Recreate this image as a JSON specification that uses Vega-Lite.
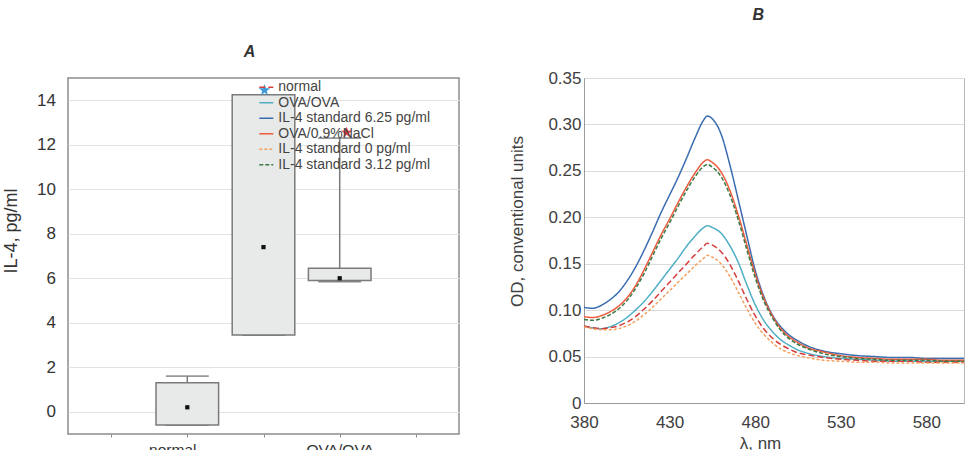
{
  "$schema": "https://vega.github.io/schema/vega-lite/v6.json",
  "padding": {"left": 1, "top": 6, "right": 8, "bottom": 0},
  "spacing": 47,
  "config": {
    "font": "Liberation Sans",
    "axis": {"labelColor": "#333333", "titleColor": "#333333", "titleFontWeight": "normal", "gridColor": "#e3e3e3", "domainColor": "#9a9a9a", "tickColor": "#8a8a8a"},
    "title": {"fontSize": 16, "fontWeight": "bold", "fontStyle": "italic", "color": "#333333", "baseline": "alphabetic", "frame": "group"}
  },
  "datasets": {
    "box": [
      {"group": "normal", "pos": 2, "min": -0.6, "q1": -0.6, "median": 0.2, "q3": 1.3, "max": 1.6},
      {"group": "OVA/0.9%NaCl", "pos": 3, "min": 3.45, "q1": 3.45, "median": 7.4, "q3": 14.25, "max": 14.25},
      {"group": "OVA/OVA", "pos": 4, "min": 5.85, "q1": 5.9, "median": 6.0, "q3": 6.45, "max": 12.3}
    ],
    "stars": [
      {"group": "OVA/0.9%NaCl", "pos": 3, "value": 14.45, "vs": "normal"},
      {"group": "OVA/OVA", "pos": 4, "value": 12.55, "vs": "OVA/0.9%NaCl"}
    ],
    "spectra": [
      {"series": "OVA/OVA", "nm": 380, "od": 0.083}, {"series": "OVA/OVA", "nm": 385, "od": 0.081}, {"series": "OVA/OVA", "nm": 390, "od": 0.080}, {"series": "OVA/OVA", "nm": 395, "od": 0.082}, {"series": "OVA/OVA", "nm": 400, "od": 0.086}, {"series": "OVA/OVA", "nm": 405, "od": 0.092}, {"series": "OVA/OVA", "nm": 410, "od": 0.100}, {"series": "OVA/OVA", "nm": 415, "od": 0.109}, {"series": "OVA/OVA", "nm": 420, "od": 0.120}, {"series": "OVA/OVA", "nm": 425, "od": 0.132}, {"series": "OVA/OVA", "nm": 430, "od": 0.144}, {"series": "OVA/OVA", "nm": 435, "od": 0.156}, {"series": "OVA/OVA", "nm": 440, "od": 0.169}, {"series": "OVA/OVA", "nm": 445, "od": 0.180}, {"series": "OVA/OVA", "nm": 450, "od": 0.189}, {"series": "OVA/OVA", "nm": 452, "od": 0.191}, {"series": "OVA/OVA", "nm": 455, "od": 0.189}, {"series": "OVA/OVA", "nm": 460, "od": 0.183}, {"series": "OVA/OVA", "nm": 465, "od": 0.170}, {"series": "OVA/OVA", "nm": 470, "od": 0.152}, {"series": "OVA/OVA", "nm": 475, "od": 0.128}, {"series": "OVA/OVA", "nm": 480, "od": 0.106}, {"series": "OVA/OVA", "nm": 485, "od": 0.089}, {"series": "OVA/OVA", "nm": 490, "od": 0.077}, {"series": "OVA/OVA", "nm": 495, "od": 0.068}, {"series": "OVA/OVA", "nm": 500, "od": 0.062}, {"series": "OVA/OVA", "nm": 505, "od": 0.057}, {"series": "OVA/OVA", "nm": 510, "od": 0.054}, {"series": "OVA/OVA", "nm": 520, "od": 0.050}, {"series": "OVA/OVA", "nm": 530, "od": 0.048}, {"series": "OVA/OVA", "nm": 540, "od": 0.047}, {"series": "OVA/OVA", "nm": 550, "od": 0.046}, {"series": "OVA/OVA", "nm": 560, "od": 0.045}, {"series": "OVA/OVA", "nm": 570, "od": 0.045}, {"series": "OVA/OVA", "nm": 580, "od": 0.045}, {"series": "OVA/OVA", "nm": 590, "od": 0.045}, {"series": "OVA/OVA", "nm": 602, "od": 0.045},
      {"series": "normal", "nm": 380, "od": 0.083}, {"series": "normal", "nm": 385, "od": 0.081}, {"series": "normal", "nm": 390, "od": 0.080}, {"series": "normal", "nm": 395, "od": 0.081}, {"series": "normal", "nm": 400, "od": 0.083}, {"series": "normal", "nm": 405, "od": 0.087}, {"series": "normal", "nm": 410, "od": 0.093}, {"series": "normal", "nm": 415, "od": 0.101}, {"series": "normal", "nm": 420, "od": 0.110}, {"series": "normal", "nm": 425, "od": 0.120}, {"series": "normal", "nm": 430, "od": 0.130}, {"series": "normal", "nm": 435, "od": 0.140}, {"series": "normal", "nm": 440, "od": 0.150}, {"series": "normal", "nm": 445, "od": 0.160}, {"series": "normal", "nm": 450, "od": 0.169}, {"series": "normal", "nm": 452, "od": 0.172}, {"series": "normal", "nm": 455, "od": 0.170}, {"series": "normal", "nm": 460, "od": 0.163}, {"series": "normal", "nm": 465, "od": 0.150}, {"series": "normal", "nm": 470, "od": 0.132}, {"series": "normal", "nm": 475, "od": 0.112}, {"series": "normal", "nm": 480, "od": 0.094}, {"series": "normal", "nm": 485, "od": 0.080}, {"series": "normal", "nm": 490, "od": 0.070}, {"series": "normal", "nm": 495, "od": 0.063}, {"series": "normal", "nm": 500, "od": 0.058}, {"series": "normal", "nm": 505, "od": 0.054}, {"series": "normal", "nm": 510, "od": 0.052}, {"series": "normal", "nm": 520, "od": 0.049}, {"series": "normal", "nm": 530, "od": 0.047}, {"series": "normal", "nm": 540, "od": 0.046}, {"series": "normal", "nm": 550, "od": 0.045}, {"series": "normal", "nm": 560, "od": 0.045}, {"series": "normal", "nm": 570, "od": 0.045}, {"series": "normal", "nm": 580, "od": 0.044}, {"series": "normal", "nm": 590, "od": 0.044}, {"series": "normal", "nm": 602, "od": 0.044},
      {"series": "IL-4 standard 0 pg/ml", "nm": 380, "od": 0.082}, {"series": "IL-4 standard 0 pg/ml", "nm": 385, "od": 0.080}, {"series": "IL-4 standard 0 pg/ml", "nm": 390, "od": 0.079}, {"series": "IL-4 standard 0 pg/ml", "nm": 395, "od": 0.079}, {"series": "IL-4 standard 0 pg/ml", "nm": 400, "od": 0.080}, {"series": "IL-4 standard 0 pg/ml", "nm": 405, "od": 0.083}, {"series": "IL-4 standard 0 pg/ml", "nm": 410, "od": 0.088}, {"series": "IL-4 standard 0 pg/ml", "nm": 415, "od": 0.095}, {"series": "IL-4 standard 0 pg/ml", "nm": 420, "od": 0.103}, {"series": "IL-4 standard 0 pg/ml", "nm": 425, "od": 0.112}, {"series": "IL-4 standard 0 pg/ml", "nm": 430, "od": 0.121}, {"series": "IL-4 standard 0 pg/ml", "nm": 435, "od": 0.130}, {"series": "IL-4 standard 0 pg/ml", "nm": 440, "od": 0.139}, {"series": "IL-4 standard 0 pg/ml", "nm": 445, "od": 0.148}, {"series": "IL-4 standard 0 pg/ml", "nm": 450, "od": 0.156}, {"series": "IL-4 standard 0 pg/ml", "nm": 452, "od": 0.159}, {"series": "IL-4 standard 0 pg/ml", "nm": 455, "od": 0.157}, {"series": "IL-4 standard 0 pg/ml", "nm": 460, "od": 0.150}, {"series": "IL-4 standard 0 pg/ml", "nm": 465, "od": 0.137}, {"series": "IL-4 standard 0 pg/ml", "nm": 470, "od": 0.120}, {"series": "IL-4 standard 0 pg/ml", "nm": 475, "od": 0.102}, {"series": "IL-4 standard 0 pg/ml", "nm": 480, "od": 0.086}, {"series": "IL-4 standard 0 pg/ml", "nm": 485, "od": 0.074}, {"series": "IL-4 standard 0 pg/ml", "nm": 490, "od": 0.065}, {"series": "IL-4 standard 0 pg/ml", "nm": 495, "od": 0.058}, {"series": "IL-4 standard 0 pg/ml", "nm": 500, "od": 0.054}, {"series": "IL-4 standard 0 pg/ml", "nm": 505, "od": 0.051}, {"series": "IL-4 standard 0 pg/ml", "nm": 510, "od": 0.049}, {"series": "IL-4 standard 0 pg/ml", "nm": 520, "od": 0.046}, {"series": "IL-4 standard 0 pg/ml", "nm": 530, "od": 0.045}, {"series": "IL-4 standard 0 pg/ml", "nm": 540, "od": 0.044}, {"series": "IL-4 standard 0 pg/ml", "nm": 550, "od": 0.044}, {"series": "IL-4 standard 0 pg/ml", "nm": 560, "od": 0.043}, {"series": "IL-4 standard 0 pg/ml", "nm": 570, "od": 0.043}, {"series": "IL-4 standard 0 pg/ml", "nm": 580, "od": 0.043}, {"series": "IL-4 standard 0 pg/ml", "nm": 590, "od": 0.043}, {"series": "IL-4 standard 0 pg/ml", "nm": 602, "od": 0.043},
      {"series": "IL-4 standard 6.25 pg/ml", "nm": 380, "od": 0.103}, {"series": "IL-4 standard 6.25 pg/ml", "nm": 385, "od": 0.102}, {"series": "IL-4 standard 6.25 pg/ml", "nm": 390, "od": 0.105}, {"series": "IL-4 standard 6.25 pg/ml", "nm": 395, "od": 0.111}, {"series": "IL-4 standard 6.25 pg/ml", "nm": 400, "od": 0.119}, {"series": "IL-4 standard 6.25 pg/ml", "nm": 405, "od": 0.131}, {"series": "IL-4 standard 6.25 pg/ml", "nm": 410, "od": 0.146}, {"series": "IL-4 standard 6.25 pg/ml", "nm": 415, "od": 0.164}, {"series": "IL-4 standard 6.25 pg/ml", "nm": 420, "od": 0.184}, {"series": "IL-4 standard 6.25 pg/ml", "nm": 425, "od": 0.205}, {"series": "IL-4 standard 6.25 pg/ml", "nm": 430, "od": 0.224}, {"series": "IL-4 standard 6.25 pg/ml", "nm": 435, "od": 0.243}, {"series": "IL-4 standard 6.25 pg/ml", "nm": 440, "od": 0.264}, {"series": "IL-4 standard 6.25 pg/ml", "nm": 445, "od": 0.286}, {"series": "IL-4 standard 6.25 pg/ml", "nm": 450, "od": 0.305}, {"series": "IL-4 standard 6.25 pg/ml", "nm": 452, "od": 0.309}, {"series": "IL-4 standard 6.25 pg/ml", "nm": 455, "od": 0.306}, {"series": "IL-4 standard 6.25 pg/ml", "nm": 460, "od": 0.290}, {"series": "IL-4 standard 6.25 pg/ml", "nm": 465, "od": 0.258}, {"series": "IL-4 standard 6.25 pg/ml", "nm": 470, "od": 0.220}, {"series": "IL-4 standard 6.25 pg/ml", "nm": 475, "od": 0.181}, {"series": "IL-4 standard 6.25 pg/ml", "nm": 480, "od": 0.143}, {"series": "IL-4 standard 6.25 pg/ml", "nm": 485, "od": 0.115}, {"series": "IL-4 standard 6.25 pg/ml", "nm": 490, "od": 0.095}, {"series": "IL-4 standard 6.25 pg/ml", "nm": 495, "od": 0.082}, {"series": "IL-4 standard 6.25 pg/ml", "nm": 500, "od": 0.073}, {"series": "IL-4 standard 6.25 pg/ml", "nm": 505, "od": 0.067}, {"series": "IL-4 standard 6.25 pg/ml", "nm": 510, "od": 0.062}, {"series": "IL-4 standard 6.25 pg/ml", "nm": 520, "od": 0.056}, {"series": "IL-4 standard 6.25 pg/ml", "nm": 530, "od": 0.053}, {"series": "IL-4 standard 6.25 pg/ml", "nm": 540, "od": 0.051}, {"series": "IL-4 standard 6.25 pg/ml", "nm": 550, "od": 0.050}, {"series": "IL-4 standard 6.25 pg/ml", "nm": 560, "od": 0.049}, {"series": "IL-4 standard 6.25 pg/ml", "nm": 570, "od": 0.049}, {"series": "IL-4 standard 6.25 pg/ml", "nm": 580, "od": 0.048}, {"series": "IL-4 standard 6.25 pg/ml", "nm": 590, "od": 0.048}, {"series": "IL-4 standard 6.25 pg/ml", "nm": 602, "od": 0.048},
      {"series": "OVA/0.9%NaCl", "nm": 380, "od": 0.093}, {"series": "OVA/0.9%NaCl", "nm": 385, "od": 0.092}, {"series": "OVA/0.9%NaCl", "nm": 390, "od": 0.094}, {"series": "OVA/0.9%NaCl", "nm": 395, "od": 0.098}, {"series": "OVA/0.9%NaCl", "nm": 400, "od": 0.104}, {"series": "OVA/0.9%NaCl", "nm": 405, "od": 0.113}, {"series": "OVA/0.9%NaCl", "nm": 410, "od": 0.126}, {"series": "OVA/0.9%NaCl", "nm": 415, "od": 0.143}, {"series": "OVA/0.9%NaCl", "nm": 420, "od": 0.162}, {"series": "OVA/0.9%NaCl", "nm": 425, "od": 0.181}, {"series": "OVA/0.9%NaCl", "nm": 430, "od": 0.198}, {"series": "OVA/0.9%NaCl", "nm": 435, "od": 0.216}, {"series": "OVA/0.9%NaCl", "nm": 440, "od": 0.233}, {"series": "OVA/0.9%NaCl", "nm": 445, "od": 0.248}, {"series": "OVA/0.9%NaCl", "nm": 450, "od": 0.260}, {"series": "OVA/0.9%NaCl", "nm": 452, "od": 0.262}, {"series": "OVA/0.9%NaCl", "nm": 455, "od": 0.259}, {"series": "OVA/0.9%NaCl", "nm": 460, "od": 0.249}, {"series": "OVA/0.9%NaCl", "nm": 465, "od": 0.230}, {"series": "OVA/0.9%NaCl", "nm": 470, "od": 0.203}, {"series": "OVA/0.9%NaCl", "nm": 475, "od": 0.171}, {"series": "OVA/0.9%NaCl", "nm": 480, "od": 0.139}, {"series": "OVA/0.9%NaCl", "nm": 485, "od": 0.113}, {"series": "OVA/0.9%NaCl", "nm": 490, "od": 0.094}, {"series": "OVA/0.9%NaCl", "nm": 495, "od": 0.080}, {"series": "OVA/0.9%NaCl", "nm": 500, "od": 0.071}, {"series": "OVA/0.9%NaCl", "nm": 505, "od": 0.065}, {"series": "OVA/0.9%NaCl", "nm": 510, "od": 0.060}, {"series": "OVA/0.9%NaCl", "nm": 520, "od": 0.055}, {"series": "OVA/0.9%NaCl", "nm": 530, "od": 0.051}, {"series": "OVA/0.9%NaCl", "nm": 540, "od": 0.049}, {"series": "OVA/0.9%NaCl", "nm": 550, "od": 0.048}, {"series": "OVA/0.9%NaCl", "nm": 560, "od": 0.047}, {"series": "OVA/0.9%NaCl", "nm": 570, "od": 0.047}, {"series": "OVA/0.9%NaCl", "nm": 580, "od": 0.047}, {"series": "OVA/0.9%NaCl", "nm": 590, "od": 0.046}, {"series": "OVA/0.9%NaCl", "nm": 602, "od": 0.046},
      {"series": "IL-4 standard 3.12 pg/ml", "nm": 380, "od": 0.090}, {"series": "IL-4 standard 3.12 pg/ml", "nm": 385, "od": 0.089}, {"series": "IL-4 standard 3.12 pg/ml", "nm": 390, "od": 0.091}, {"series": "IL-4 standard 3.12 pg/ml", "nm": 395, "od": 0.095}, {"series": "IL-4 standard 3.12 pg/ml", "nm": 400, "od": 0.101}, {"series": "IL-4 standard 3.12 pg/ml", "nm": 405, "od": 0.110}, {"series": "IL-4 standard 3.12 pg/ml", "nm": 410, "od": 0.123}, {"series": "IL-4 standard 3.12 pg/ml", "nm": 415, "od": 0.139}, {"series": "IL-4 standard 3.12 pg/ml", "nm": 420, "od": 0.158}, {"series": "IL-4 standard 3.12 pg/ml", "nm": 425, "od": 0.177}, {"series": "IL-4 standard 3.12 pg/ml", "nm": 430, "od": 0.194}, {"series": "IL-4 standard 3.12 pg/ml", "nm": 435, "od": 0.212}, {"series": "IL-4 standard 3.12 pg/ml", "nm": 440, "od": 0.229}, {"series": "IL-4 standard 3.12 pg/ml", "nm": 445, "od": 0.244}, {"series": "IL-4 standard 3.12 pg/ml", "nm": 450, "od": 0.255}, {"series": "IL-4 standard 3.12 pg/ml", "nm": 452, "od": 0.257}, {"series": "IL-4 standard 3.12 pg/ml", "nm": 455, "od": 0.254}, {"series": "IL-4 standard 3.12 pg/ml", "nm": 460, "od": 0.244}, {"series": "IL-4 standard 3.12 pg/ml", "nm": 465, "od": 0.225}, {"series": "IL-4 standard 3.12 pg/ml", "nm": 470, "od": 0.198}, {"series": "IL-4 standard 3.12 pg/ml", "nm": 475, "od": 0.166}, {"series": "IL-4 standard 3.12 pg/ml", "nm": 480, "od": 0.135}, {"series": "IL-4 standard 3.12 pg/ml", "nm": 485, "od": 0.110}, {"series": "IL-4 standard 3.12 pg/ml", "nm": 490, "od": 0.092}, {"series": "IL-4 standard 3.12 pg/ml", "nm": 495, "od": 0.078}, {"series": "IL-4 standard 3.12 pg/ml", "nm": 500, "od": 0.069}, {"series": "IL-4 standard 3.12 pg/ml", "nm": 505, "od": 0.063}, {"series": "IL-4 standard 3.12 pg/ml", "nm": 510, "od": 0.059}, {"series": "IL-4 standard 3.12 pg/ml", "nm": 520, "od": 0.053}, {"series": "IL-4 standard 3.12 pg/ml", "nm": 530, "od": 0.050}, {"series": "IL-4 standard 3.12 pg/ml", "nm": 540, "od": 0.048}, {"series": "IL-4 standard 3.12 pg/ml", "nm": 550, "od": 0.047}, {"series": "IL-4 standard 3.12 pg/ml", "nm": 560, "od": 0.046}, {"series": "IL-4 standard 3.12 pg/ml", "nm": 570, "od": 0.046}, {"series": "IL-4 standard 3.12 pg/ml", "nm": 580, "od": 0.046}, {"series": "IL-4 standard 3.12 pg/ml", "nm": 590, "od": 0.045}, {"series": "IL-4 standard 3.12 pg/ml", "nm": 602, "od": 0.045}
    ]
  },
  "hconcat": [
    {
      "width": 391,
      "height": 356,
      "view": {"stroke": "#8c8c8c", "strokeWidth": 1.5},
      "title": {"text": "A", "offset": 18, "dx": -14},
      "data": {"name": "box"},
      "encoding": {
        "x": {
          "field": "pos",
          "type": "quantitative",
          "scale": {"domain": [0.5, 5.5], "nice": false, "zero": false},
          "axis": {
            "title": null,
            "values": [1, 2, 3, 4, 5],
            "labelExpr": "datum.value === 2 ? 'normal' : datum.value === 3 ? 'OVA/0.9%NaCl' : datum.value === 4 ? 'OVA/OVA' : ''",
            "grid": false,
            "domain": false,
            "ticks": true,
            "tickSize": 3,
            "labelOverlap": false,
            "labelFlush": false,
            "labelFontSize": 15.5,
            "labelColor": "#333333",
            "labelOffset": {"condition": {"test": "datum.value === 4", "value": 0}, "value": -15},
            "labelPadding": {"condition": {"test": "datum.value === 3", "value": 22.5}, "value": 5.5}
          }
        }
      },
      "layer": [
        {
          "mark": {"type": "rule", "color": "#7a7a7a", "strokeWidth": 1.5},
          "encoding": {
            "y": {
              "field": "min",
              "type": "quantitative",
              "scale": {"domain": [-1, 15], "nice": false, "zero": false},
              "axis": {
                "title": "IL-4, pg/ml",
                "values": [0, 2, 4, 6, 8, 10, 12, 14],
                "grid": true,
                "ticks": false,
                "domain": false,
                "labelFontSize": 17,
                "labelPadding": 12.5,
                "titleFontSize": 18,
                "titleX": -56.7,
                "titleY": 152.5,
                "titleBaseline": "middle"
              }
            },
            "y2": {"field": "max"}
          }
        },
        {
          "mark": {"type": "tick", "orient": "horizontal", "color": "#6e6e6e", "size": 43, "thickness": 1.6},
          "encoding": {"y": {"field": "max", "type": "quantitative", "title": "IL-4, pg/ml"}}
        },
        {
          "mark": {"type": "tick", "orient": "horizontal", "color": "#555555", "size": 43, "thickness": 1.8},
          "encoding": {"y": {"field": "min", "type": "quantitative", "title": "IL-4, pg/ml"}}
        },
        {
          "mark": {"type": "bar", "width": 62.6, "fill": "#e8eaea", "stroke": "#7a7a7a", "strokeWidth": 1.5},
          "encoding": {"y": {"field": "q3", "type": "quantitative", "title": "IL-4, pg/ml"}, "y2": {"field": "q1"}}
        },
        {
          "mark": {"type": "point", "shape": "square", "filled": true, "color": "#111111", "size": 18, "opacity": 1},
          "encoding": {"y": {"field": "median", "type": "quantitative", "title": "IL-4, pg/ml"}}
        },
        {
          "data": {"name": "stars"},
          "transform": [{"filter": "datum.vs === 'normal'"}],
          "mark": {"type": "point", "shape": "M0,-1L0.2234,-0.3074L0.9511,-0.309L0.3614,0.1174L0.5878,0.809L0,0.38L-0.5878,0.809L-0.3614,0.1174L-0.9511,-0.309L-0.2234,-0.3074Z", "filled": true, "size": 150, "opacity": 1, "color": "#3d9bd8", "xOffset": 1},
          "encoding": {"y": {"field": "value", "type": "quantitative", "title": "IL-4, pg/ml"}}
        },
        {
          "data": {"name": "stars"},
          "transform": [{"filter": "datum.vs === 'OVA/0.9%NaCl'"}],
          "mark": {"type": "point", "shape": "M0,-1L0.2234,-0.3074L0.9511,-0.309L0.3614,0.1174L0.5878,0.809L0,0.38L-0.5878,0.809L-0.3614,0.1174L-0.9511,-0.309L-0.2234,-0.3074Z", "filled": true, "size": 150, "opacity": 1, "color": "#e8383d", "xOffset": 7},
          "encoding": {"y": {"field": "value", "type": "quantitative", "title": "IL-4, pg/ml"}}
        },
        {
          "data": {"values": [{}]},
          "mark": {"type": "rect", "fill": "#e6e8e8", "stroke": "#6a6a6a", "strokeWidth": 1.2},
          "encoding": {
            "x": {"datum": 4.357, "type": "quantitative"},
            "x2": {"datum": 4.592},
            "y": {"datum": 0.99, "type": "quantitative"},
            "y2": {"datum": 0.47}
          }
        },
        {
          "data": {"values": [{}]},
          "mark": {"type": "rule", "color": "#6a6a6a", "strokeWidth": 1.2},
          "encoding": {
            "x": {"datum": 4.474, "type": "quantitative"},
            "y": {"datum": 0.47, "type": "quantitative"},
            "y2": {"datum": -0.03}
          }
        },
        {
          "data": {"values": [{}]},
          "mark": {"type": "rule", "color": "#6a6a6a", "strokeWidth": 1.4},
          "encoding": {
            "x": {"datum": 4.351, "type": "quantitative"},
            "x2": {"datum": 4.59},
            "y": {"datum": -0.03, "type": "quantitative"}
          }
        },
        {
          "data": {"values": [{}]},
          "mark": {"type": "point", "shape": "square", "filled": true, "color": "#111111", "size": 18, "opacity": 1},
          "encoding": {
            "x": {"datum": 4.468, "type": "quantitative"},
            "y": {"datum": 1.337, "type": "quantitative"}
          }
        },
        {
          "data": {"values": [{}]},
          "mark": {"type": "text", "align": "left", "baseline": "middle", "fontSize": 14, "color": "#444444", "text": "Median"},
          "encoding": {
            "x": {"datum": 4.669, "type": "quantitative"},
            "y": {"datum": 1.562, "type": "quantitative"}
          }
        },
        {
          "data": {"values": [{}]},
          "mark": {"type": "text", "align": "left", "baseline": "middle", "fontSize": 14, "color": "#444444", "text": "25-75%"},
          "encoding": {
            "x": {"datum": 4.669, "type": "quantitative"},
            "y": {"datum": 0.797, "type": "quantitative"}
          }
        },
        {
          "data": {"values": [{}]},
          "mark": {"type": "text", "align": "left", "baseline": "middle", "fontSize": 14, "color": "#444444", "text": "Min-Max"},
          "encoding": {
            "x": {"datum": 4.669, "type": "quantitative"},
            "y": {"datum": 0.032, "type": "quantitative"}
          }
        }
      ]
    },
    {
      "width": 380,
      "height": 325,
      "view": {"stroke": "#b8b8b8", "strokeWidth": 1},
      "title": {"text": "B", "offset": 45.7, "dx": -15.7},
      "data": {"name": "spectra"},
      "mark": {"type": "line", "interpolate": "monotone"},
      "encoding": {
        "x": {
          "field": "nm",
          "type": "quantitative",
          "scale": {"domain": [380, 602], "nice": false, "zero": false},
          "axis": {
            "title": "λ, nm",
            "values": [380, 430, 480, 530, 580],
            "grid": false,
            "ticks": false,
            "labelFontSize": 17,
            "labelPadding": 11.5,
            "labelColor": "#404040",
            "labelFlush": false,
            "titleFontSize": 17,
            "titleX": 176,
            "titleY": 40,
            "titleBaseline": "middle",
            "titleColor": "#404040"
          }
        },
        "y": {
          "field": "od",
          "type": "quantitative",
          "scale": {"domain": [0, 0.35], "nice": false},
          "axis": {
            "title": "OD, conventional units",
            "values": [0, 0.05, 0.1, 0.15, 0.2, 0.25, 0.3, 0.35],
            "labelExpr": "datum.value === 0 ? '0' : format(datum.value, '.2f')",
            "grid": true,
            "gridColor": "#dcdcdc",
            "ticks": false,
            "labelFontSize": 17,
            "labelPadding": 3,
            "labelColor": "#404040",
            "titleFontSize": 17,
            "titleX": -66.7,
            "titleY": 143,
            "titleBaseline": "middle",
            "titleColor": "#404040"
          }
        },
        "color": {
          "field": "series",
          "type": "nominal",
          "scale": {
            "domain": ["normal", "OVA/OVA", "IL-4 standard 6.25 pg/ml", "OVA/0.9%NaCl", "IL-4 standard 0 pg/ml", "IL-4 standard 3.12 pg/ml"],
            "range": ["#d63c3c", "#4eaec4", "#3a6db0", "#ee5a3c", "#f5a05e", "#3b7a45"]
          },
          "legend": {"title": null, "orient": "none", "legendX": 190.3, "legendY": 1.3, "padding": 0, "rowPadding": 0.5, "symbolType": "stroke", "symbolSize": 196, "labelFontSize": 14, "labelColor": "#444444", "labelOffset": 4}
        },
        "strokeDash": {
          "field": "series",
          "type": "nominal",
          "scale": {
            "domain": ["normal", "OVA/OVA", "IL-4 standard 6.25 pg/ml", "OVA/0.9%NaCl", "IL-4 standard 0 pg/ml", "IL-4 standard 3.12 pg/ml"],
            "range": [[6, 3], [1, 0], [1, 0], [1, 0], [3, 2], [4, 2]]
          },
          "legend": {"title": null, "orient": "none", "legendX": 190.3, "legendY": 1.3, "padding": 0, "rowPadding": 0.5, "symbolType": "stroke", "symbolSize": 196, "labelFontSize": 14, "labelColor": "#444444", "labelOffset": 4}
        },
        "strokeWidth": {
          "field": "series",
          "type": "nominal",
          "scale": {
            "domain": ["normal", "OVA/OVA", "IL-4 standard 6.25 pg/ml", "OVA/0.9%NaCl", "IL-4 standard 0 pg/ml", "IL-4 standard 3.12 pg/ml"],
            "range": [1.5, 1.5, 2.5, 2, 1.5, 2.5]
          },
          "legend": {"title": null, "orient": "none", "legendX": 190.3, "legendY": 1.3, "padding": 0, "rowPadding": 0.5, "symbolType": "stroke", "symbolSize": 196, "labelFontSize": 14, "labelColor": "#444444", "labelOffset": 4}
        }
      }
    }
  ]
}
